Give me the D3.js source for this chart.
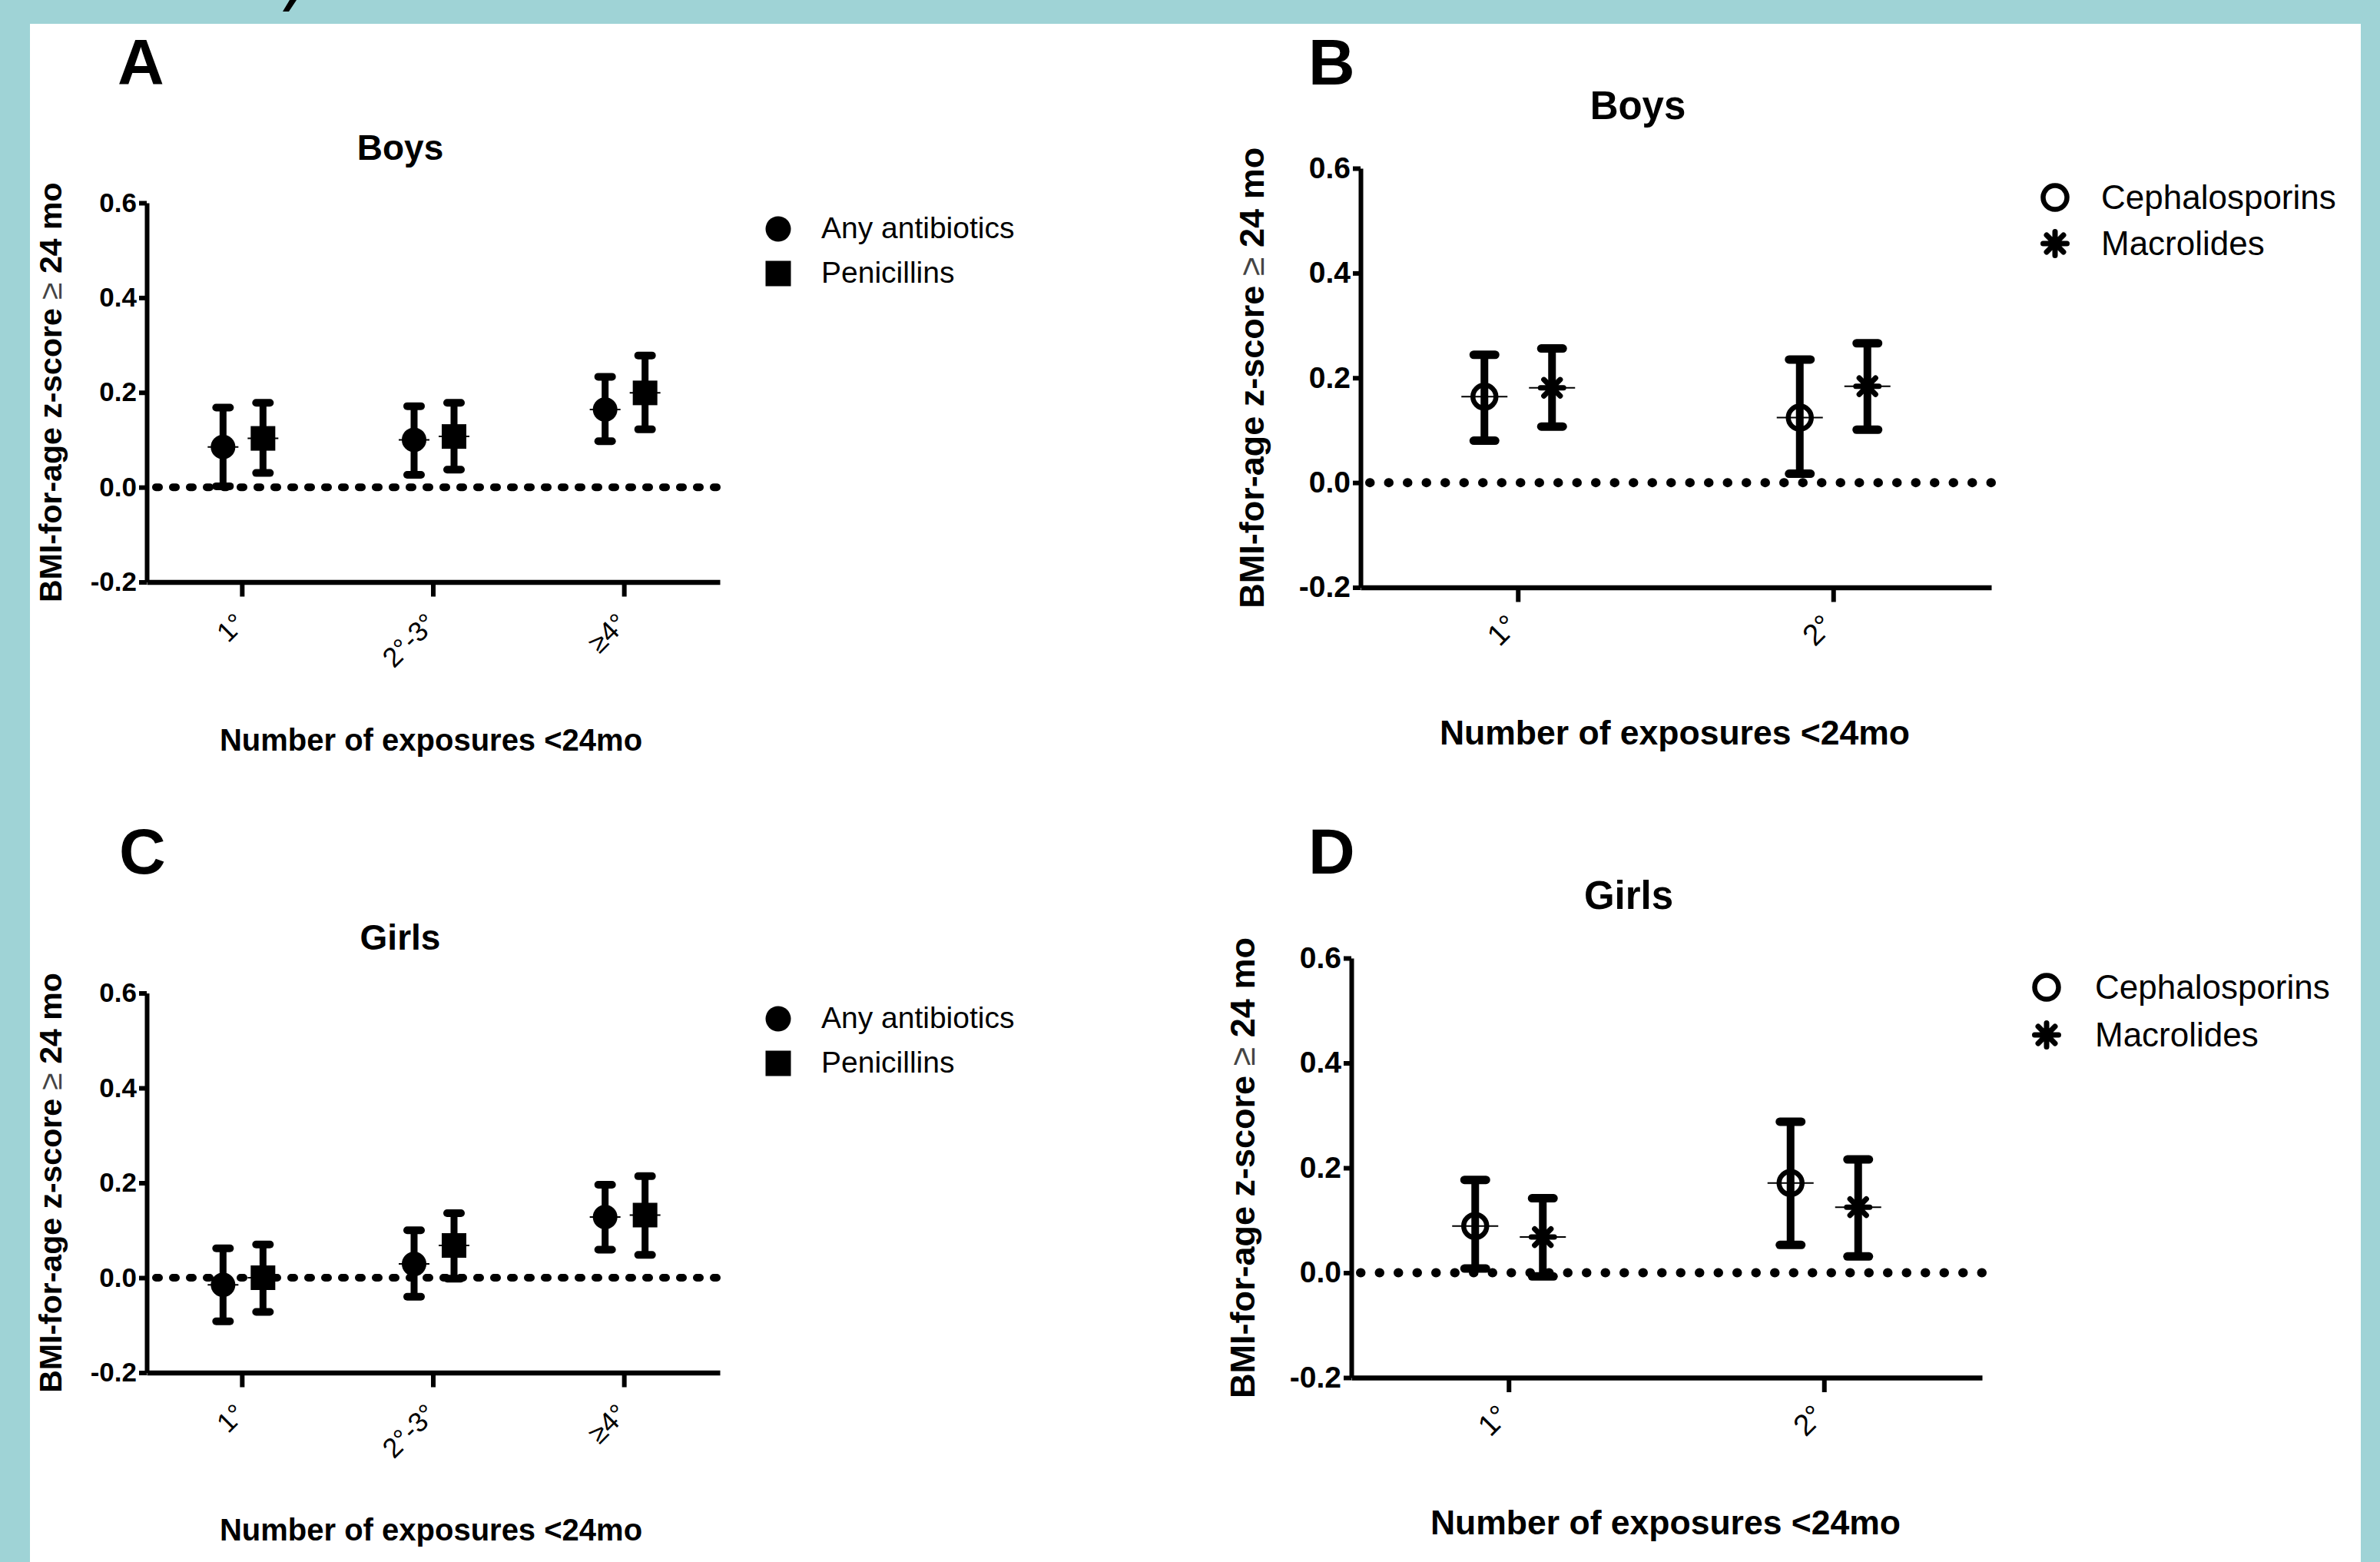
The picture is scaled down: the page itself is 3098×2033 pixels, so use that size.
<!DOCTYPE html>
<html><head><meta charset="utf-8">
<script src="https://cdn.jsdelivr.net/npm/d3@7"></script>
<style>html,body{margin:0;padding:0;background:#9fd3d6;} svg{display:block}</style>
</head><body><svg id="c" width="3098" height="2033"></svg>
<script>
// ---------- DATA ----------
const catsAntibiotics = ["1°", "2°-3°", "≥4°"];
const catsClasses = ["1°", "2°"];
const yTickValues = [-0.2, 0.0, 0.2, 0.4, 0.6];
const seriesNamesA = ["Any antibiotics", "Penicillins"];
const seriesNamesB = ["Cephalosporins", "Macrolides"];

// Panel A (Boys) - any antibiotics / penicillins
const boysAnyMean = [0.085, 0.100, 0.164];
const boysAnyLow  = [0.002, 0.026, 0.097];
const boysAnyHigh = [0.168, 0.171, 0.233];
const boysPenMean = [0.103, 0.107, 0.199];
const boysPenLow  = [0.030, 0.037, 0.122];
const boysPenHigh = [0.178, 0.178, 0.278];
// Panel C (Girls)
const girlsAnyMean = [-0.015, 0.029, 0.128];
const girlsAnyLow  = [-0.092, -0.040, 0.059];
const girlsAnyHigh = [0.062, 0.100, 0.196];
const girlsPenMean = [0.000, 0.068, 0.132];
const girlsPenLow  = [-0.072, -0.002, 0.048];
const girlsPenHigh = [0.070, 0.136, 0.214];
// Panel B (Boys) - cephalosporins / macrolides
const boysCephMean = [0.164, 0.124];
const boysCephLow  = [0.080, 0.017];
const boysCephHigh = [0.244, 0.235];
const boysMacMean  = [0.181, 0.184];
const boysMacLow   = [0.107, 0.101];
const boysMacHigh  = [0.256, 0.266];
// Panel D (Girls)
const girlsCephMean = [0.089, 0.171];
const girlsCephLow  = [0.008, 0.053];
const girlsCephHigh = [0.177, 0.288];
const girlsMacMean  = [0.068, 0.125];
const girlsMacLow   = [-0.007, 0.031];
const girlsMacHigh  = [0.142, 0.216];

// ---------- DRAW ----------
const svg = d3.select("#c");
const FONT = "'Liberation Sans', Arial, sans-serif";

svg.append("rect").attr("x", 0).attr("y", 0).attr("width", 3098).attr("height", 2033).attr("fill", "#9fd3d6");
svg.append("rect").attr("x", 39).attr("y", 31).attr("width", 3034).attr("height", 2010).attr("fill", "#ffffff");
// fragment of a glyph cut off at the top edge (decorative stroke)
svg.append("path").attr("d", "M368,15 L376,15 L386,0 L377,0 Z").attr("fill", "#000");

function starPath(R) {
  let d = "";
  [0, 45, 90, 135].forEach(a => {
    const r = a * Math.PI / 180, c = Math.cos(r) * R, s = Math.sin(r) * R;
    d += `M${-c},${-s}L${c},${s}`;
  });
  return d;
}

function drawMarker(g, kind, cx, cy, sz) {
  if (kind === "circle") {
    g.append("circle").attr("cx", cx).attr("cy", cy).attr("r", sz).attr("fill", "#000");
  } else if (kind === "square") {
    g.append("rect").attr("x", cx - sz).attr("y", cy - sz).attr("width", 2 * sz).attr("height", 2 * sz).attr("fill", "#000");
  } else if (kind === "open") {
    g.append("circle").attr("cx", cx).attr("cy", cy).attr("r", sz).attr("fill", "none").attr("stroke", "#000").attr("stroke-width", 6.5);
  } else if (kind === "star") {
    g.append("path").attr("transform", `translate(${cx},${cy})`).attr("d", starPath(sz))
      .attr("stroke", "#000").attr("stroke-width", 7).attr("stroke-linecap", "round").attr("fill", "none");
  }
}

function drawPanel(p) {
  const g = svg.append("g");
  const x = d3.scaleBand().domain(p.cats).range([p.x0, p.x1]).padding(0);
  const y = d3.scaleLinear().domain([-0.2, 0.6]).range([p.yb, p.yt]);

  // panel letter
  g.append("text").attr("x", p.letterX).attr("y", p.letterY).attr("font-family", FONT)
    .attr("font-weight", "bold").attr("font-size", 84).text(p.letter);
  // title
  g.append("text").attr("x", p.titleX).attr("y", p.titleY).attr("text-anchor", "middle")
    .attr("font-family", FONT).attr("font-weight", "bold").attr("font-size", p.titleSize).text(p.title);

  // y axis
  const ya = d3.axisLeft(y).tickValues(yTickValues).tickFormat(d => d.toFixed(1))
    .tickSize(10).tickSizeOuter(0).tickPadding(3);
  const yg = g.append("g").attr("transform", `translate(${p.x0},0)`).call(ya);
  yg.select(".domain").attr("stroke", "#000").attr("stroke-width", 6);
  yg.selectAll(".tick line").attr("stroke", "#000").attr("stroke-width", 6);
  yg.selectAll(".tick text").attr("font-family", FONT).attr("font-weight", "bold")
    .attr("font-size", p.tickSize).attr("fill", "#000");

  // x axis
  const xa = d3.axisBottom(x).tickSize(p.xTickLen).tickSizeOuter(0).tickPadding(0);
  const xg = g.append("g").attr("transform", `translate(0,${p.yb})`).call(xa);
  xg.select(".domain").attr("stroke", "#000").attr("stroke-width", 6.5);
  xg.selectAll(".tick line").attr("stroke", "#000").attr("stroke-width", 6);
  xg.selectAll(".tick text").attr("font-family", FONT).attr("font-size", p.xLabSize).attr("fill", "#000")
    .attr("text-anchor", "end").attr("dy", 0).attr("y", 0)
    .attr("transform", `translate(${p.xLabDx},${p.xLabDy}) rotate(-45)`);

  // y label
  const yl = g.append("text").attr("transform", `translate(${p.yLabX},${(p.yt + p.yb) / 2}) rotate(-90)`)
    .attr("text-anchor", "middle").attr("font-family", FONT).attr("font-weight", "bold").attr("font-size", p.yLabSize);
  yl.append("tspan").text("BMI-for-age z-score ");
  yl.append("tspan").attr("font-weight", "normal").attr("fill", "#444").text("≥");
  yl.append("tspan").text(" 24 mo");

  // x title
  g.append("text").attr("x", p.xTitleX).attr("y", p.xTitleY).attr("text-anchor", "middle")
    .attr("font-family", FONT).attr("font-weight", "bold").attr("font-size", p.xTitleSize)
    .text("Number of exposures <24mo");

  // zero reference line
  g.append("line").attr("x1", p.x0 + 12).attr("x2", p.x1).attr("y1", y(0)).attr("y2", y(0))
    .attr("stroke", "#000").attr("stroke-width", p.dotW).attr("stroke-linecap", "round")
    .attr("stroke-dasharray", p.dash);

  // series
  p.series.forEach((s, si) => {
    const sg = g.append("g");
    p.cats.forEach((c, i) => {
      const cx = x(c) + x.bandwidth() / 2 + p.offsets[si];
      const yl = y(s.low[i]), yh = y(s.high[i]), ym = y(s.mean[i]);
      sg.append("line").attr("x1", cx).attr("x2", cx).attr("y1", yl).attr("y2", yh)
        .attr("stroke", "#000").attr("stroke-width", p.barW);
      [yl, yh].forEach(yy => {
        sg.append("line").attr("x1", cx - p.capHalf).attr("x2", cx + p.capHalf).attr("y1", yy).attr("y2", yy)
          .attr("stroke", "#000").attr("stroke-width", p.barW + 1).attr("stroke-linecap", "round");
      });
      sg.append("line").attr("x1", cx - p.meanHalf).attr("x2", cx + p.meanHalf).attr("y1", ym).attr("y2", ym)
        .attr("stroke", "#000").attr("stroke-width", 2);
      drawMarker(sg, s.kind, cx, ym, p.markSize);
    });
  });

  // legend
  p.series.forEach((s, si) => {
    const ly = p.legRows[si];
    drawMarker(g, s.kind, p.legMarkX, ly, p.legMarkSize);
    g.append("text").attr("x", p.legTextX).attr("y", ly + p.legBase).attr("font-family", FONT)
      .attr("font-size", p.legSize).attr("fill", "#000").text(s.name);
  });
}

const styleAC = {
  cats: catsAntibiotics, x0: 191, x1: 937, tickSize: 35, titleSize: 46, yLabSize: 41, xTitleSize: 40,
  xLabSize: 36, xLabDx: 6, xLabDy: 56, xTickLen: 19, offsets: [-25, 27], barW: 9, capHalf: 9, meanHalf: 20,
  markSize: 16, dotW: 10, dash: "4 18", legMarkX: 1013, legTextX: 1069, legMarkSize: 16.5, legSize: 39, legBase: 12,
  yLabX: 80, letterX: 153, titleX: 521, xTitleX: 561
};
const styleBD = {
  cats: catsClasses, tickSize: 39, titleSize: 51, yLabSize: 45, xTitleSize: 44.5,
  xLabSize: 39, xLabDx: 2, xLabDy: 52, xTickLen: 19, offsets: [-44, 44], barW: 10, capHalf: 14, meanHalf: 30,
  markSize: 15, dotW: 12, dash: "0.5 24", legMarkSize: 15.5, legSize: 44, legBase: 15
};

drawPanel(Object.assign({}, styleAC, {
  letter: "A", letterY: 110, title: "Boys", titleY: 208, yt: 264, yb: 757.5, xTitleY: 977,
  legRows: [298, 356],
  series: [
    { name: seriesNamesA[0], kind: "circle", mean: boysAnyMean, low: boysAnyLow, high: boysAnyHigh },
    { name: seriesNamesA[1], kind: "square", mean: boysPenMean, low: boysPenLow, high: boysPenHigh }
  ]
}));
drawPanel(Object.assign({}, styleAC, {
  letter: "C", letterX: 155, letterY: 1137, title: "Girls", titleY: 1236, yt: 1292.5, yb: 1786.5, xTitleY: 2005,
  legRows: [1326, 1384],
  series: [
    { name: seriesNamesA[0], kind: "circle", mean: girlsAnyMean, low: girlsAnyLow, high: girlsAnyHigh },
    { name: seriesNamesA[1], kind: "square", mean: girlsPenMean, low: girlsPenLow, high: girlsPenHigh }
  ]
}));
drawPanel(Object.assign({}, styleBD, {
  letter: "B", letterX: 1703, letterY: 110, title: "Boys", titleX: 2132, titleY: 155,
  x0: 1771, x1: 2592, yt: 219, yb: 764.5, yLabX: 1645, xTitleX: 2180, xTitleY: 969,
  legMarkX: 2675, legTextX: 2735, legRows: [257, 317],
  series: [
    { name: seriesNamesB[0], kind: "open", mean: boysCephMean, low: boysCephLow, high: boysCephHigh },
    { name: seriesNamesB[1], kind: "star", mean: boysMacMean, low: boysMacLow, high: boysMacHigh }
  ]
}));
drawPanel(Object.assign({}, styleBD, {
  letter: "D", letterX: 1703, letterY: 1137, title: "Girls", titleX: 2120, titleY: 1183,
  x0: 1759, x1: 2580, yt: 1247, yb: 1793, yLabX: 1633, xTitleX: 2168, xTitleY: 1997,
  legMarkX: 2664, legTextX: 2727, legRows: [1285, 1347],
  series: [
    { name: seriesNamesB[0], kind: "open", mean: girlsCephMean, low: girlsCephLow, high: girlsCephHigh },
    { name: seriesNamesB[1], kind: "star", mean: girlsMacMean, low: girlsMacLow, high: girlsMacHigh }
  ]
}));
</script></body></html>
